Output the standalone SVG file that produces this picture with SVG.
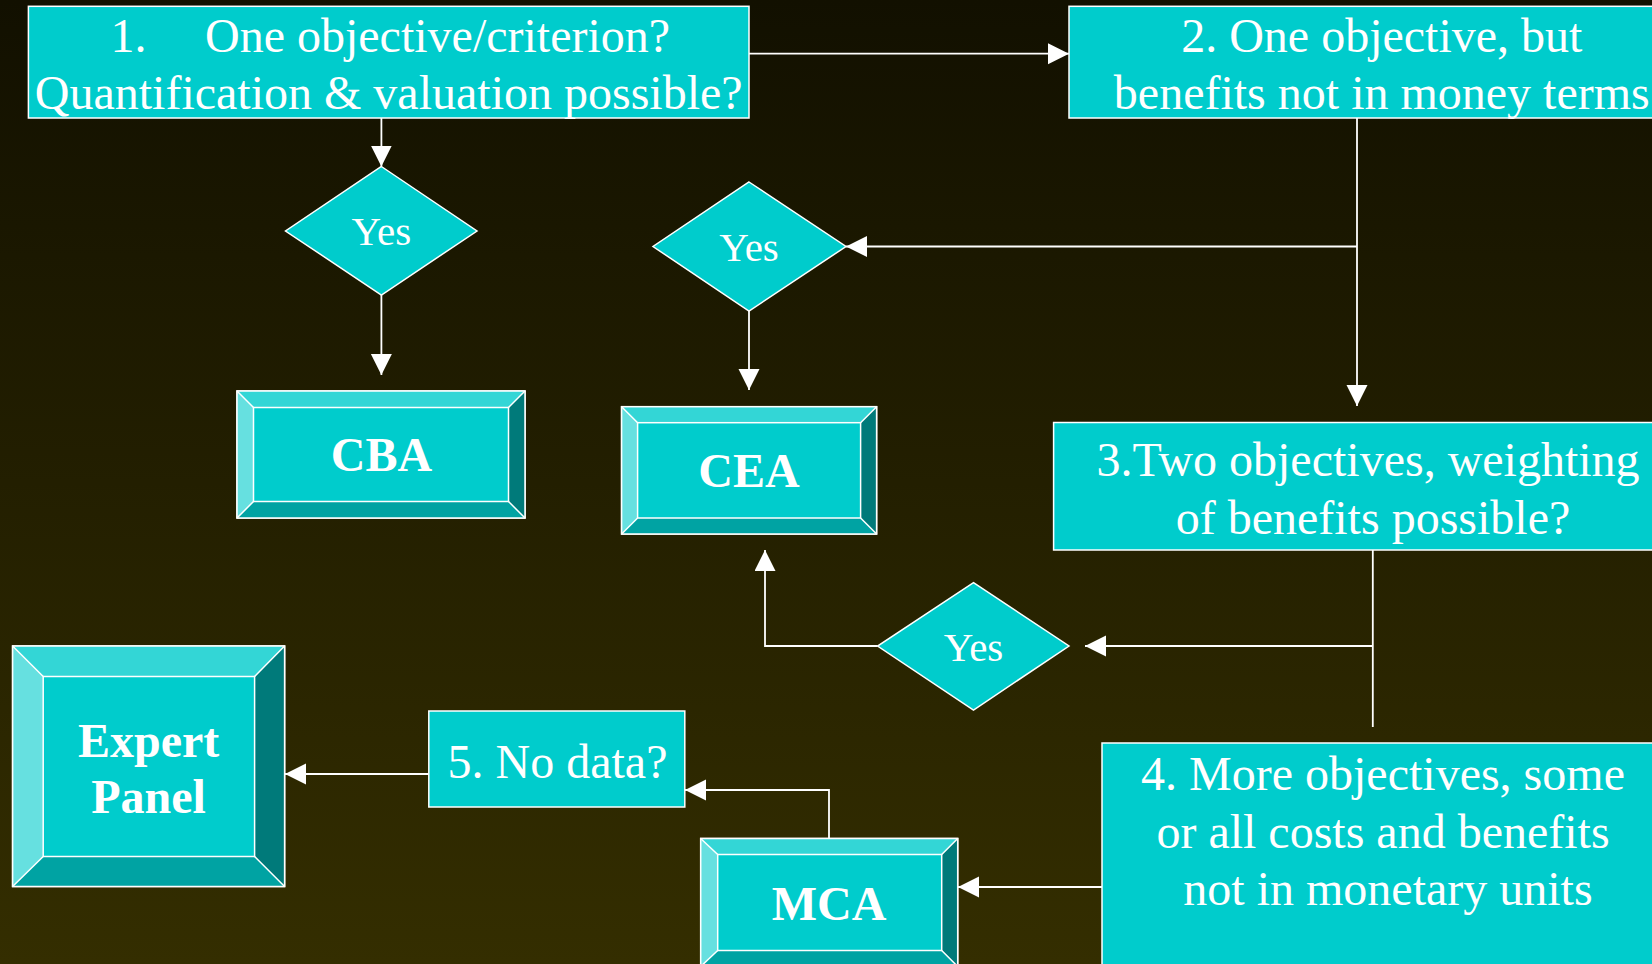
<svg xmlns="http://www.w3.org/2000/svg" width="1652" height="964" viewBox="0 0 1652 964">
<defs>
<linearGradient id="bg" x1="0" y1="0" x2="0" y2="1">
<stop offset="0" stop-color="#121000"/>
<stop offset="1" stop-color="#342e00"/>
</linearGradient>
<marker id="arr" markerUnits="userSpaceOnUse" markerWidth="22" markerHeight="22" refX="21" refY="10.5" orient="auto">
<path d="M0,0 L21,10.5 L0,21 z" fill="#ffffff"/>
</marker>
<style>
.box{fill:#00cccc;stroke:#ffffff;stroke-width:1.5}
.t{font-family:"Liberation Serif","Times New Roman",serif;font-size:48px;fill:#ffffff}
.y{font-family:"Liberation Serif","Times New Roman",serif;font-size:41px;fill:#ffffff;text-anchor:middle}
.b{font-family:"Liberation Serif","Times New Roman",serif;font-size:48px;font-weight:bold;fill:#ffffff;text-anchor:middle}
.m{text-anchor:middle}
.bt{fill:#33d6d6}.bl{fill:#66e0e0}.br{fill:#007a7a}.bb{fill:#00a3a3}
.edge{stroke:#ffffff;stroke-width:1.5;fill:none}
.c{fill:none;stroke:#ffffff;stroke-width:1.8}
</style>
</defs>
<rect x="0" y="0" width="1652" height="964" fill="url(#bg)"/>

<g id="connectors">
<path class="c" d="M749,53.7 H1069" marker-end="url(#arr)"/>
<path class="c" d="M381.4,118 V166.5" marker-end="url(#arr)"/>
<path class="c" d="M381.4,295 V375" marker-end="url(#arr)"/>
<path class="c" d="M1357,118 V406" marker-end="url(#arr)"/>
<path class="c" d="M1357,246.5 H846" marker-end="url(#arr)"/>
<path class="c" d="M749,311 V390" marker-end="url(#arr)"/>
<path class="c" d="M1372.8,550 V727"/>
<path class="c" d="M1372.8,646 H1085" marker-end="url(#arr)"/>
<path class="c" d="M877.6,646 H765 V550" marker-end="url(#arr)"/>
<path class="c" d="M1102,887 H958" marker-end="url(#arr)"/>
<path class="c" d="M829,840 V790 H685" marker-end="url(#arr)"/>
<path class="c" d="M428.8,774 H285" marker-end="url(#arr)"/>
</g>

<g id="n1">
<rect class="box" x="28.4" y="6.3" width="720.6" height="111.7"/>
<text class="t" y="51.5"><tspan x="110.6">1.</tspan><tspan x="205">One objective/criterion?</tspan></text>
<text class="t m" x="388.7" y="109.1">Quantification &amp; valuation possible?</text>
</g>

<g id="n2">
<rect class="box" x="1069" y="6.3" width="640" height="111.7"/>
<text class="t m" x="1381.8" y="51.5">2. One objective, but</text>
<text class="t m" x="1381.8" y="109.1">benefits not in money terms</text>
</g>

<g id="d1">
<polygon class="box" points="381.4,166.5 477,231 381.4,295 285.5,231"/>
<text class="y" x="381.4" y="245">Yes</text>
</g>

<g id="d2">
<polygon class="box" points="749,182 846,246.5 749,311 653,246.5"/>
<text class="y" x="749" y="261">Yes</text>
</g>

<g id="cba">
<rect class="box" x="237" y="391" width="288" height="127"/>
<polygon class="bt" points="237,391 525,391 508.5,407.5 253.5,407.5"/>
<polygon class="bl" points="237,391 253.5,407.5 253.5,501.5 237,518"/>
<polygon class="br" points="525,391 525,518 508.5,501.5 508.5,407.5"/>
<polygon class="bb" points="237,518 253.5,501.5 508.5,501.5 525,518"/>
<rect class="edge" x="237" y="391" width="288" height="127"/>
<rect class="edge" x="253.5" y="407.5" width="255" height="94"/>
<path class="edge" d="M237,391 L253.5,407.5 M525,391 L508.5,407.5 M237,518 L253.5,501.5 M525,518 L508.5,501.5"/>
<text class="b" x="381.4" y="471">CBA</text>
</g>

<g id="cea">
<rect class="box" x="621.6" y="406.7" width="255" height="127.3"/>
<polygon class="bt" points="621.6,406.7 876.6,406.7 860.6,422.7 637.6,422.7"/>
<polygon class="bl" points="621.6,406.7 637.6,422.7 637.6,518 621.6,534"/>
<polygon class="br" points="876.6,406.7 876.6,534 860.6,518 860.6,422.7"/>
<polygon class="bb" points="621.6,534 637.6,518 860.6,518 876.6,534"/>
<rect class="edge" x="621.6" y="406.7" width="255" height="127.3"/>
<rect class="edge" x="637.6" y="422.7" width="223" height="95.3"/>
<path class="edge" d="M621.6,406.7 L637.6,422.7 M876.6,406.7 L860.6,422.7 M621.6,534 L637.6,518 M876.6,534 L860.6,518"/>
<text class="b" x="749" y="487">CEA</text>
</g>

<g id="n3">
<rect class="box" x="1053.6" y="422.5" width="640" height="127.5"/>
<text class="t m" x="1368" y="476.2">3.Two objectives, weighting</text>
<text class="t m" x="1373" y="534">of benefits possible?</text>
</g>

<g id="d3">
<polygon class="box" points="973.5,582.6 1069,646 973.5,710 877.6,646"/>
<text class="y" x="973.5" y="660.5">Yes</text>
</g>

<g id="expert">
<rect class="box" x="12.6" y="646" width="272" height="240.5"/>
<polygon class="bt" points="12.6,646 284.6,646 254.6,676.5 43.2,676.5"/>
<polygon class="bl" points="12.6,646 43.2,676.5 43.2,856.5 12.6,886.5"/>
<polygon class="br" points="284.6,646 284.6,886.5 254.6,856.5 254.6,676.5"/>
<polygon class="bb" points="12.6,886.5 43.2,856.5 254.6,856.5 284.6,886.5"/>
<rect class="edge" x="12.6" y="646" width="272" height="240.5"/>
<rect class="edge" x="43.2" y="676.5" width="211.4" height="180"/>
<path class="edge" d="M12.6,646 L43.2,676.5 M284.6,646 L254.6,676.5 M12.6,886.5 L43.2,856.5 M284.6,886.5 L254.6,856.5"/>
<text class="b" x="148.6" y="756.5">Expert</text>
<text class="b" x="148.6" y="813.4">Panel</text>
</g>

<g id="n5">
<rect class="box" x="428.8" y="711" width="256" height="96"/>
<text class="t m" x="557.5" y="777.5">5. No data?</text>
</g>

<g id="mca">
<rect class="box" x="700.7" y="838.5" width="257" height="128"/>
<polygon class="bt" points="700.7,838.5 957.7,838.5 941.7,854.5 717.7,854.5"/>
<polygon class="bl" points="700.7,838.5 717.7,854.5 717.7,950.5 700.7,966.5"/>
<polygon class="br" points="957.7,838.5 957.7,966.5 941.7,950.5 941.7,854.5"/>
<polygon class="bb" points="700.7,966.5 717.7,950.5 941.7,950.5 957.7,966.5"/>
<rect class="edge" x="700.7" y="838.5" width="257" height="128"/>
<rect class="edge" x="717.7" y="854.5" width="224" height="96"/>
<path class="edge" d="M700.7,838.5 L717.7,854.5 M957.7,838.5 L941.7,854.5 M700.7,966.5 L717.7,950.5 M957.7,966.5 L941.7,950.5"/>
<text class="b" x="829" y="920">MCA</text>
</g>

<g id="n4">
<rect class="box" x="1102" y="743" width="600" height="240"/>
<text class="t m" x="1383" y="790">4. More objectives, some</text>
<text class="t m" x="1383" y="847.6">or all costs and benefits</text>
<text class="t m" x="1388" y="905.2">not in monetary units</text>
</g>
</svg>
